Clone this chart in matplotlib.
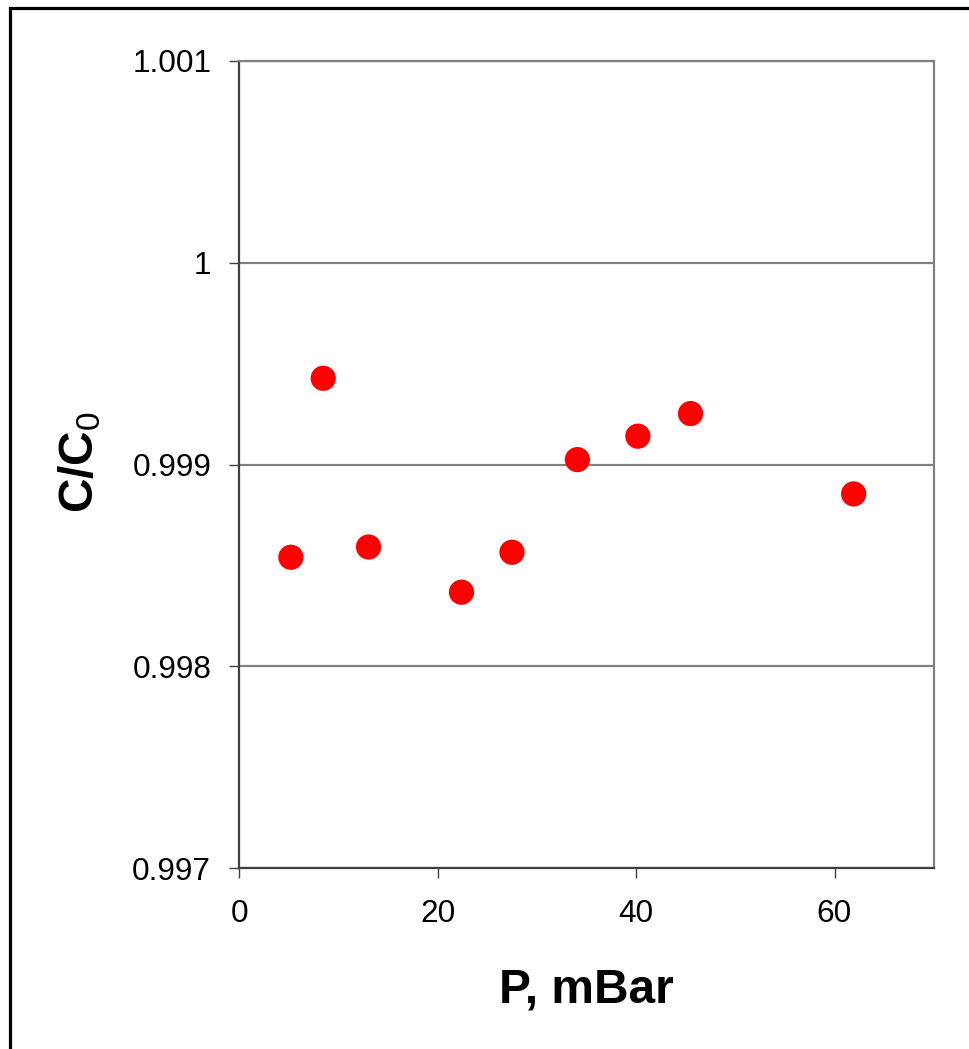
import matplotlib.pyplot as plt
from matplotlib.patches import Rectangle
from matplotlib.ticker import FuncFormatter

# Pressure vs relative concentration
pressure = [5.2, 8.46, 13.03, 22.4, 27.49, 34.08, 40.18, 45.49, 61.93]
ratio = [0.998541, 0.999428, 0.998592, 0.998368, 0.998566,
         0.999025, 0.999141, 0.999253, 0.998855]

x_ticks = [0, 20, 40, 60]
y_ticks = [0.997, 0.998, 0.999, 1.0, 1.001]

plt.rcParams['font.family'] = ['Liberation Sans', 'DejaVu Sans']
plt.rcParams['mathtext.fontset'] = 'custom'
plt.rcParams['mathtext.rm'] = 'Liberation Sans'

fig = plt.figure(figsize=(9.7, 10.49), dpi=100)
ax = fig.add_axes([239.3 / 970, 1 - 868.3 / 1049, (933.7 - 239.3) / 970, (868.3 - 61) / 1049])

# outer frame (only left/top edges fall inside the image)
fig.patches.append(Rectangle((10.5 / 970, -0.1), 1.2, 1.1 - 7.5 / 1049 + 0.0,
                             transform=fig.transFigure, fill=False,
                             edgecolor='black', linewidth=2.3, clip_on=False))

ax.scatter(pressure, ratio, s=330, color='#ff0000', edgecolors='none', zorder=3)

ax.set_xlim(0, 70)
ax.set_ylim(0.997, 1.001)
ax.set_xticks(x_ticks)
ax.set_yticks(y_ticks)
ax.yaxis.set_major_formatter(FuncFormatter(lambda v, p: '%g' % round(v, 3)))

ax.grid(axis='y', color='#808080', linewidth=1.6)
ax.set_axisbelow(True)

for side in ['left', 'bottom']:
    ax.spines[side].set_color('#404040')
    ax.spines[side].set_linewidth(1.6)
for side in ['right', 'top']:
    ax.spines[side].set_color('#808080')
    ax.spines[side].set_linewidth(1.6)

ax.tick_params(axis='both', direction='out', length=7.2, width=1.0,
               color='#404040', labelsize=22.7)
ax.tick_params(axis='y', pad=13)
ax.tick_params(axis='x', pad=15)

ax.set_xlabel('P, mBar', fontsize=34.5, fontweight='bold', va='baseline')
ax.xaxis.set_label_coords(0.5, (868.3 - 1003) / 807.3)
ax.set_ylabel(r'C/C$_0$', fontsize=34.5, fontweight='bold', va='center', ha='center')
ax.yaxis.set_label_coords((80 - 239.3) / 694.4, (868.3 - 462) / 807.3)

fig.savefig('out.png', dpi=100, facecolor='white')
